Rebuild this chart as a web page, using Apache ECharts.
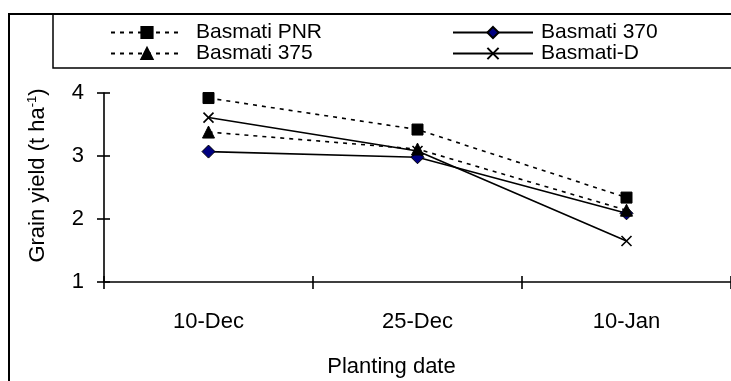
<!DOCTYPE html>
<html>
<head>
<meta charset="utf-8">
<script src="https://cdn.jsdelivr.net/npm/echarts@6/dist/echarts.min.js"></script>
<style>
  html, body { margin: 0; padding: 0; background: #fff; }
  #chart { width: 731px; height: 381px; }
</style>
</head>
<body>
<div id="chart"></div>
<script>
const dates = ['10-Dec', '25-Dec', '10-Jan'];
const yTicks = [1, 2, 3, 4];
const pnr = [3.92, 3.42, 2.34];
const b370 = [3.07, 2.98, 2.09];
const b375 = [3.38, 3.11, 2.14];
const bD = [3.61, 3.08, 1.65];

const FONT = 'Liberation Sans, Arial, sans-serif';
const crossPath = 'path://M0,0L10,10M10,0L0,10';
const gridBox = { left: 104, right: -13, top: 93, bottom: 99 };

const chart = echarts.init(document.getElementById('chart'));

function lineSeries(name, data, symbol, size, dashed, fill) {
    return {
        name: name,
        type: 'line',
        data: data,
        symbol: symbol,
        symbolSize: size,
        showSymbol: true,
        animation: false,
        lineStyle: {
            color: '#000',
            width: 1.6,
            type: dashed ? [4, 5] : 'solid'
        },
        itemStyle: {
            color: fill,
            borderColor: '#000',
            borderWidth: symbol === crossPath ? 1.6 : 1
        },
        z: 3
    };
}

const legendText = { fontSize: 21, color: '#000', fontFamily: FONT, lineHeight: 21 };

let option = {
    backgroundColor: '#fff',
    textStyle: { fontFamily: FONT, color: '#000' },
    graphic: [
        {   // outer frame
            type: 'rect',
            shape: { x: 9, y: 14, width: 800, height: 500 },
            style: { fill: 'none', stroke: '#000', lineWidth: 2 },
            z: -1
        },
        {   // legend box
            type: 'rect',
            shape: { x: 53, y: 14, width: 800, height: 54 },
            style: { fill: 'none', stroke: '#000', lineWidth: 1.5 },
            z: -1
        }
    ],
    legend: [
        {
            data: ['Basmati PNR', 'Basmati 375'],
            orient: 'vertical',
            left: 110,
            top: 22,
            padding: 0,
            itemWidth: 72,
            itemHeight: 14,
            itemGap: 0,
            textStyle: Object.assign({ padding: [0, 0, 0, 8] }, legendText)
        },
        {
            data: ['Basmati 370', 'Basmati-D'],
            orient: 'vertical',
            left: 452,
            top: 22,
            padding: 0,
            itemWidth: 80,
            itemHeight: 14,
            itemGap: 0,
            textStyle: Object.assign({ padding: [0, 0, 0, 3] }, legendText)
        }
    ],
    grid: [gridBox, gridBox],
    xAxis: [
        {
            type: 'category',
            gridIndex: 0,
            data: dates,
            boundaryGap: true,
            name: 'Planting date',
            nameLocation: 'middle',
            nameGap: 74,
            nameTextStyle: { fontSize: 22, color: '#000', padding: [0, 52, 0, 0] },
            axisLine: { lineStyle: { color: '#000', width: 1.6 } },
            axisTick: { show: true, length: 7, lineStyle: { color: '#000', width: 1.6 } },
            axisLabel: { color: '#000', fontSize: 22, margin: 29 },
            splitLine: { show: false }
        },
        {
            // inner half of the crossing tick marks
            type: 'category',
            gridIndex: 1,
            data: dates,
            boundaryGap: true,
            position: 'bottom',
            axisLine: { show: false },
            axisTick: { show: true, inside: true, length: 6, lineStyle: { color: '#000', width: 1.6 } },
            axisLabel: { show: false },
            splitLine: { show: false }
        }
    ],
    yAxis: [
        {
            type: 'value',
            gridIndex: 0,
            min: yTicks[0],
            max: yTicks[yTicks.length - 1],
            interval: 1,
            name: 'Grain yield (t ha{sup|-1})',
            nameLocation: 'middle',
            nameGap: 55,
            nameTextStyle: {
                fontSize: 22,
                color: '#000',
                padding: [0, 0, 0, 24],
                rich: {
                    sup: { fontSize: 13, verticalAlign: 'top', padding: [0, 0, 10, 0] }
                }
            },
            axisLine: { show: true, lineStyle: { color: '#000', width: 1.6 } },
            axisTick: { show: true, length: 7, lineStyle: { color: '#000', width: 1.6 } },
            axisLabel: { color: '#000', fontSize: 22, margin: 20 },
            splitLine: { show: false }
        },
        {
            type: 'value',
            gridIndex: 1,
            min: yTicks[0],
            max: yTicks[yTicks.length - 1],
            interval: 1,
            position: 'left',
            axisLine: { show: false },
            axisTick: { show: true, inside: true, length: 6, lineStyle: { color: '#000', width: 1.6 } },
            axisLabel: { show: false },
            splitLine: { show: false }
        }
    ],
    series: [
        lineSeries('Basmati PNR', pnr, 'rect', 11, true, '#000'),
        lineSeries('Basmati 370', b370, 'diamond', 13, false, '#000080'),
        lineSeries('Basmati 375', b375, 'triangle', 12, true, '#000'),
        lineSeries('Basmati-D', bD, crossPath, 10, false, 'none')
    ]
};

chart.setOption(option);
</script>
</body>
</html>
